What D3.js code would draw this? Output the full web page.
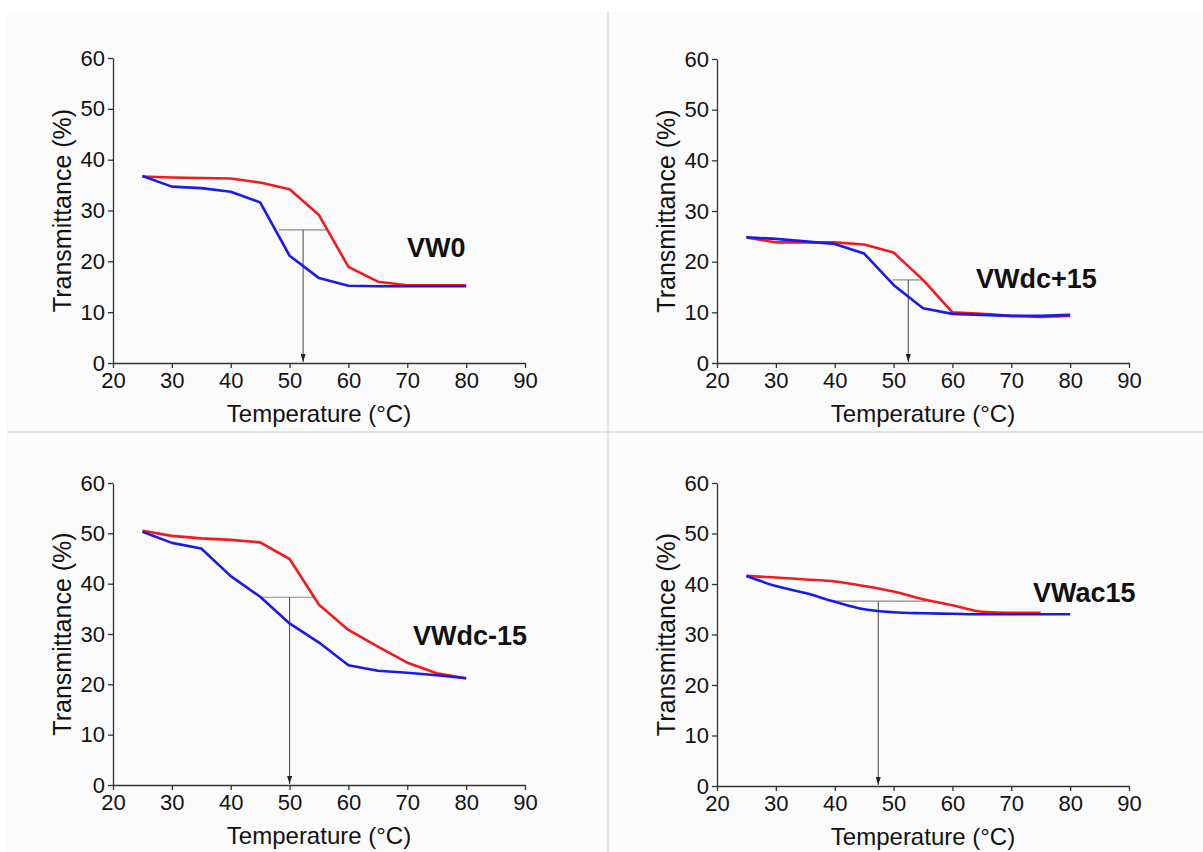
<!DOCTYPE html>
<html>
<head>
<meta charset="utf-8">
<script src="https://cdn.jsdelivr.net/npm/d3@7"></script>
<style>
  html, body { margin: 0; padding: 0; background: #ffffff; }
  svg { display: block; }
  text { font-family: "Liberation Sans", Arial, sans-serif; fill: #111; }
</style>
</head>
<body>
<svg id="chart" width="1203" height="852"></svg>
<script>
// Temperature steps (°C) shared by all four samples
const temperatures = [25, 30, 35, 40, 45, 50, 55, 60, 65, 70, 75, 80];

// Transmittance (%) — heating (red) and cooling (blue) runs
const vw0Heating    = [36.7, 36.5, 36.4, 36.3, 35.5, 34.2, 29.1, 18.9, 16.0, 15.3, 15.3, 15.3];
const vw0Cooling    = [36.8, 34.7, 34.4, 33.7, 31.6, 21.1, 16.7, 15.2, 15.1, 15.1, 15.1, 15.1];
const vwdcP15Heating = [24.8, 23.8, 23.8, 23.8, 23.4, 21.8, 16.4, 10.0, 9.7, 9.3, 9.1, 9.3];
const vwdcP15Cooling = [24.8, 24.5, 24.0, 23.5, 21.6, 15.4, 10.8, 9.7, 9.5, 9.3, 9.3, 9.5];
const vwdcM15Heating = [50.5, 49.5, 49.0, 48.7, 48.2, 44.9, 35.8, 30.8, 27.5, 24.3, 22.2, 21.2];
const vwdcM15Cooling = [50.3, 48.1, 47.0, 41.5, 37.4, 32.1, 28.3, 23.8, 22.7, 22.3, 21.8, 21.2];
const vwac15Heating = [41.6, 41.3, 40.9, 40.5, 39.6, 38.5, 37.0, 35.8, 34.5, 34.3, 34.3, null];
const vwac15Cooling = [41.6, 39.6, 38.2, 36.5, 35.0, 34.4, 34.2, 34.1, 34.0, 34.0, 34.0, 34.0];

// Hysteresis mid-width markers: [level %, cooling temp, heating temp, transition temp]
const vw0Marker    = [26.2, 48.2, 56.3, 52.3];
const vwdcP15Marker = [16.4, 49.8, 55.0, 52.5];
const vwdcM15Marker = [37.3, 45.0, 54.0, 50.0];
const vwac15Marker = [36.6, 39.5, 55.6, 47.4];

const sampleNames = ["VW0", "VWdc+15", "VWdc-15", "VWac15"];
const xTicks = [20, 30, 40, 50, 60, 70, 80, 90];
const yTicks = [0, 10, 20, 30, 40, 50, 60];
const xTitle = "Temperature (\u00B0C)";
const yTitle = "Transmittance (%)";

const svg = d3.select("#chart");

// light page tone and quadrant separators
svg.append("rect").attr("x", 7).attr("y", 12).attr("width", 1196).attr("height", 840).attr("fill", "#fbfbfb");
svg.append("line").attr("x1", 608).attr("x2", 608).attr("y1", 12).attr("y2", 852)
  .attr("stroke", "#dcdcdc").attr("stroke-width", 1.5);
svg.append("line").attr("x1", 7).attr("x2", 1203).attr("y1", 432).attr("y2", 432)
  .attr("stroke", "#dcdcdc").attr("stroke-width", 1.5);

const panels = [
  { name: sampleNames[0], heat: vw0Heating, cool: vw0Cooling, marker: vw0Marker,
    left: 113, right: 525, top: 58, bottom: 363, lx: 407, ly: 257, curve: d3.curveLinear },
  { name: sampleNames[1], heat: vwdcP15Heating, cool: vwdcP15Cooling, marker: vwdcP15Marker,
    left: 717, right: 1129, top: 59, bottom: 363, lx: 976, ly: 288, curve: d3.curveLinear },
  { name: sampleNames[2], heat: vwdcM15Heating, cool: vwdcM15Cooling, marker: vwdcM15Marker,
    left: 113, right: 525, top: 483, bottom: 785, lx: 413, ly: 645, curve: d3.curveLinear },
  { name: sampleNames[3], heat: vwac15Heating, cool: vwac15Cooling, marker: vwac15Marker,
    left: 717, right: 1129, top: 483, bottom: 786, lx: 1033, ly: 602, curve: d3.curveMonotoneX }
];

// small filled arrow head pointing along the line direction
svg.append("defs").append("marker")
  .attr("id", "arrowHead")
  .attr("viewBox", "0 0 10 10")
  .attr("preserveAspectRatio", "none")
  .attr("refX", 10).attr("refY", 5)
  .attr("markerWidth", 8).attr("markerHeight", 5)
  .attr("markerUnits", "userSpaceOnUse")
  .attr("orient", "auto")
  .append("path").attr("d", "M0,0 L10,5 L0,10 Z").attr("fill", "#222");

panels.forEach(p => {
  const x = d3.scaleLinear().domain([20, 90]).range([p.left, p.right]);
  const y = d3.scaleLinear().domain([0, 60]).range([p.bottom, p.top]);
  const g = svg.append("g");

  // axes
  const xAxis = g.append("g").attr("transform", `translate(0,${p.bottom})`)
    .call(d3.axisBottom(x).tickValues(xTicks).tickSize(5).tickSizeOuter(0).tickPadding(3));
  const yAxis = g.append("g").attr("transform", `translate(${p.left},0)`)
    .call(d3.axisLeft(y).tickValues(yTicks).tickSize(5).tickSizeOuter(0).tickPadding(3));
  [xAxis, yAxis].forEach(a => {
    a.select(".domain").attr("stroke", "#333").attr("stroke-width", 1.3);
    a.selectAll(".tick line").attr("stroke", "#333").attr("stroke-width", 1.3);
    a.selectAll(".tick text").style("font-size", "22px").attr("fill", "#111")
      .style("font-family", '"Liberation Sans", Arial, sans-serif');
  });
  xAxis.selectAll(".tick text").attr("dy", "0.76em");

  // axis titles
  g.append("text")
    .attr("x", (p.left + p.right) / 2).attr("y", p.bottom + 59)
    .attr("text-anchor", "middle").style("font-size", "24px")
    .text(xTitle);
  g.append("text")
    .attr("transform", `translate(${p.left - 51},${(p.top + p.bottom) / 2}) rotate(-90)`)
    .attr("text-anchor", "middle").attr("dominant-baseline", "central")
    .style("font-size", "25px")
    .text(yTitle);

  // marker: horizontal level and arrow to the transition temperature
  const [level, tCool, tHeat, tTrans] = p.marker;
  g.append("line")
    .attr("x1", x(tCool)).attr("x2", x(tHeat)).attr("y1", y(level)).attr("y2", y(level))
    .attr("stroke", "#8a8a8a").attr("stroke-width", 1.2);
  g.append("line")
    .attr("x1", x(tTrans)).attr("x2", x(tTrans)).attr("y1", y(level)).attr("y2", y(0) - 1)
    .attr("stroke", "#555").attr("stroke-width", 1.1)
    .attr("marker-end", "url(#arrowHead)");

  // curves
  const line = d3.line()
    .defined(d => d[1] != null)
    .x(d => x(d[0])).y(d => y(d[1]))
    .curve(p.curve);
  g.append("path")
    .datum(temperatures.map((t, i) => [t, p.heat[i]]))
    .attr("d", line).attr("fill", "none")
    .attr("stroke", "#f21a1a").attr("stroke-width", 2.6).attr("stroke-linejoin", "round");
  g.append("path")
    .datum(temperatures.map((t, i) => [t, p.cool[i]]))
    .attr("d", line).attr("fill", "none")
    .attr("stroke", "#1a1af0").attr("stroke-width", 2.6).attr("stroke-linejoin", "round");

  // sample label
  g.append("text")
    .attr("x", p.lx).attr("y", p.ly)
    .style("font-size", "27px").style("font-weight", "bold")
    .text(p.name);
});
</script>
</body>
</html>
